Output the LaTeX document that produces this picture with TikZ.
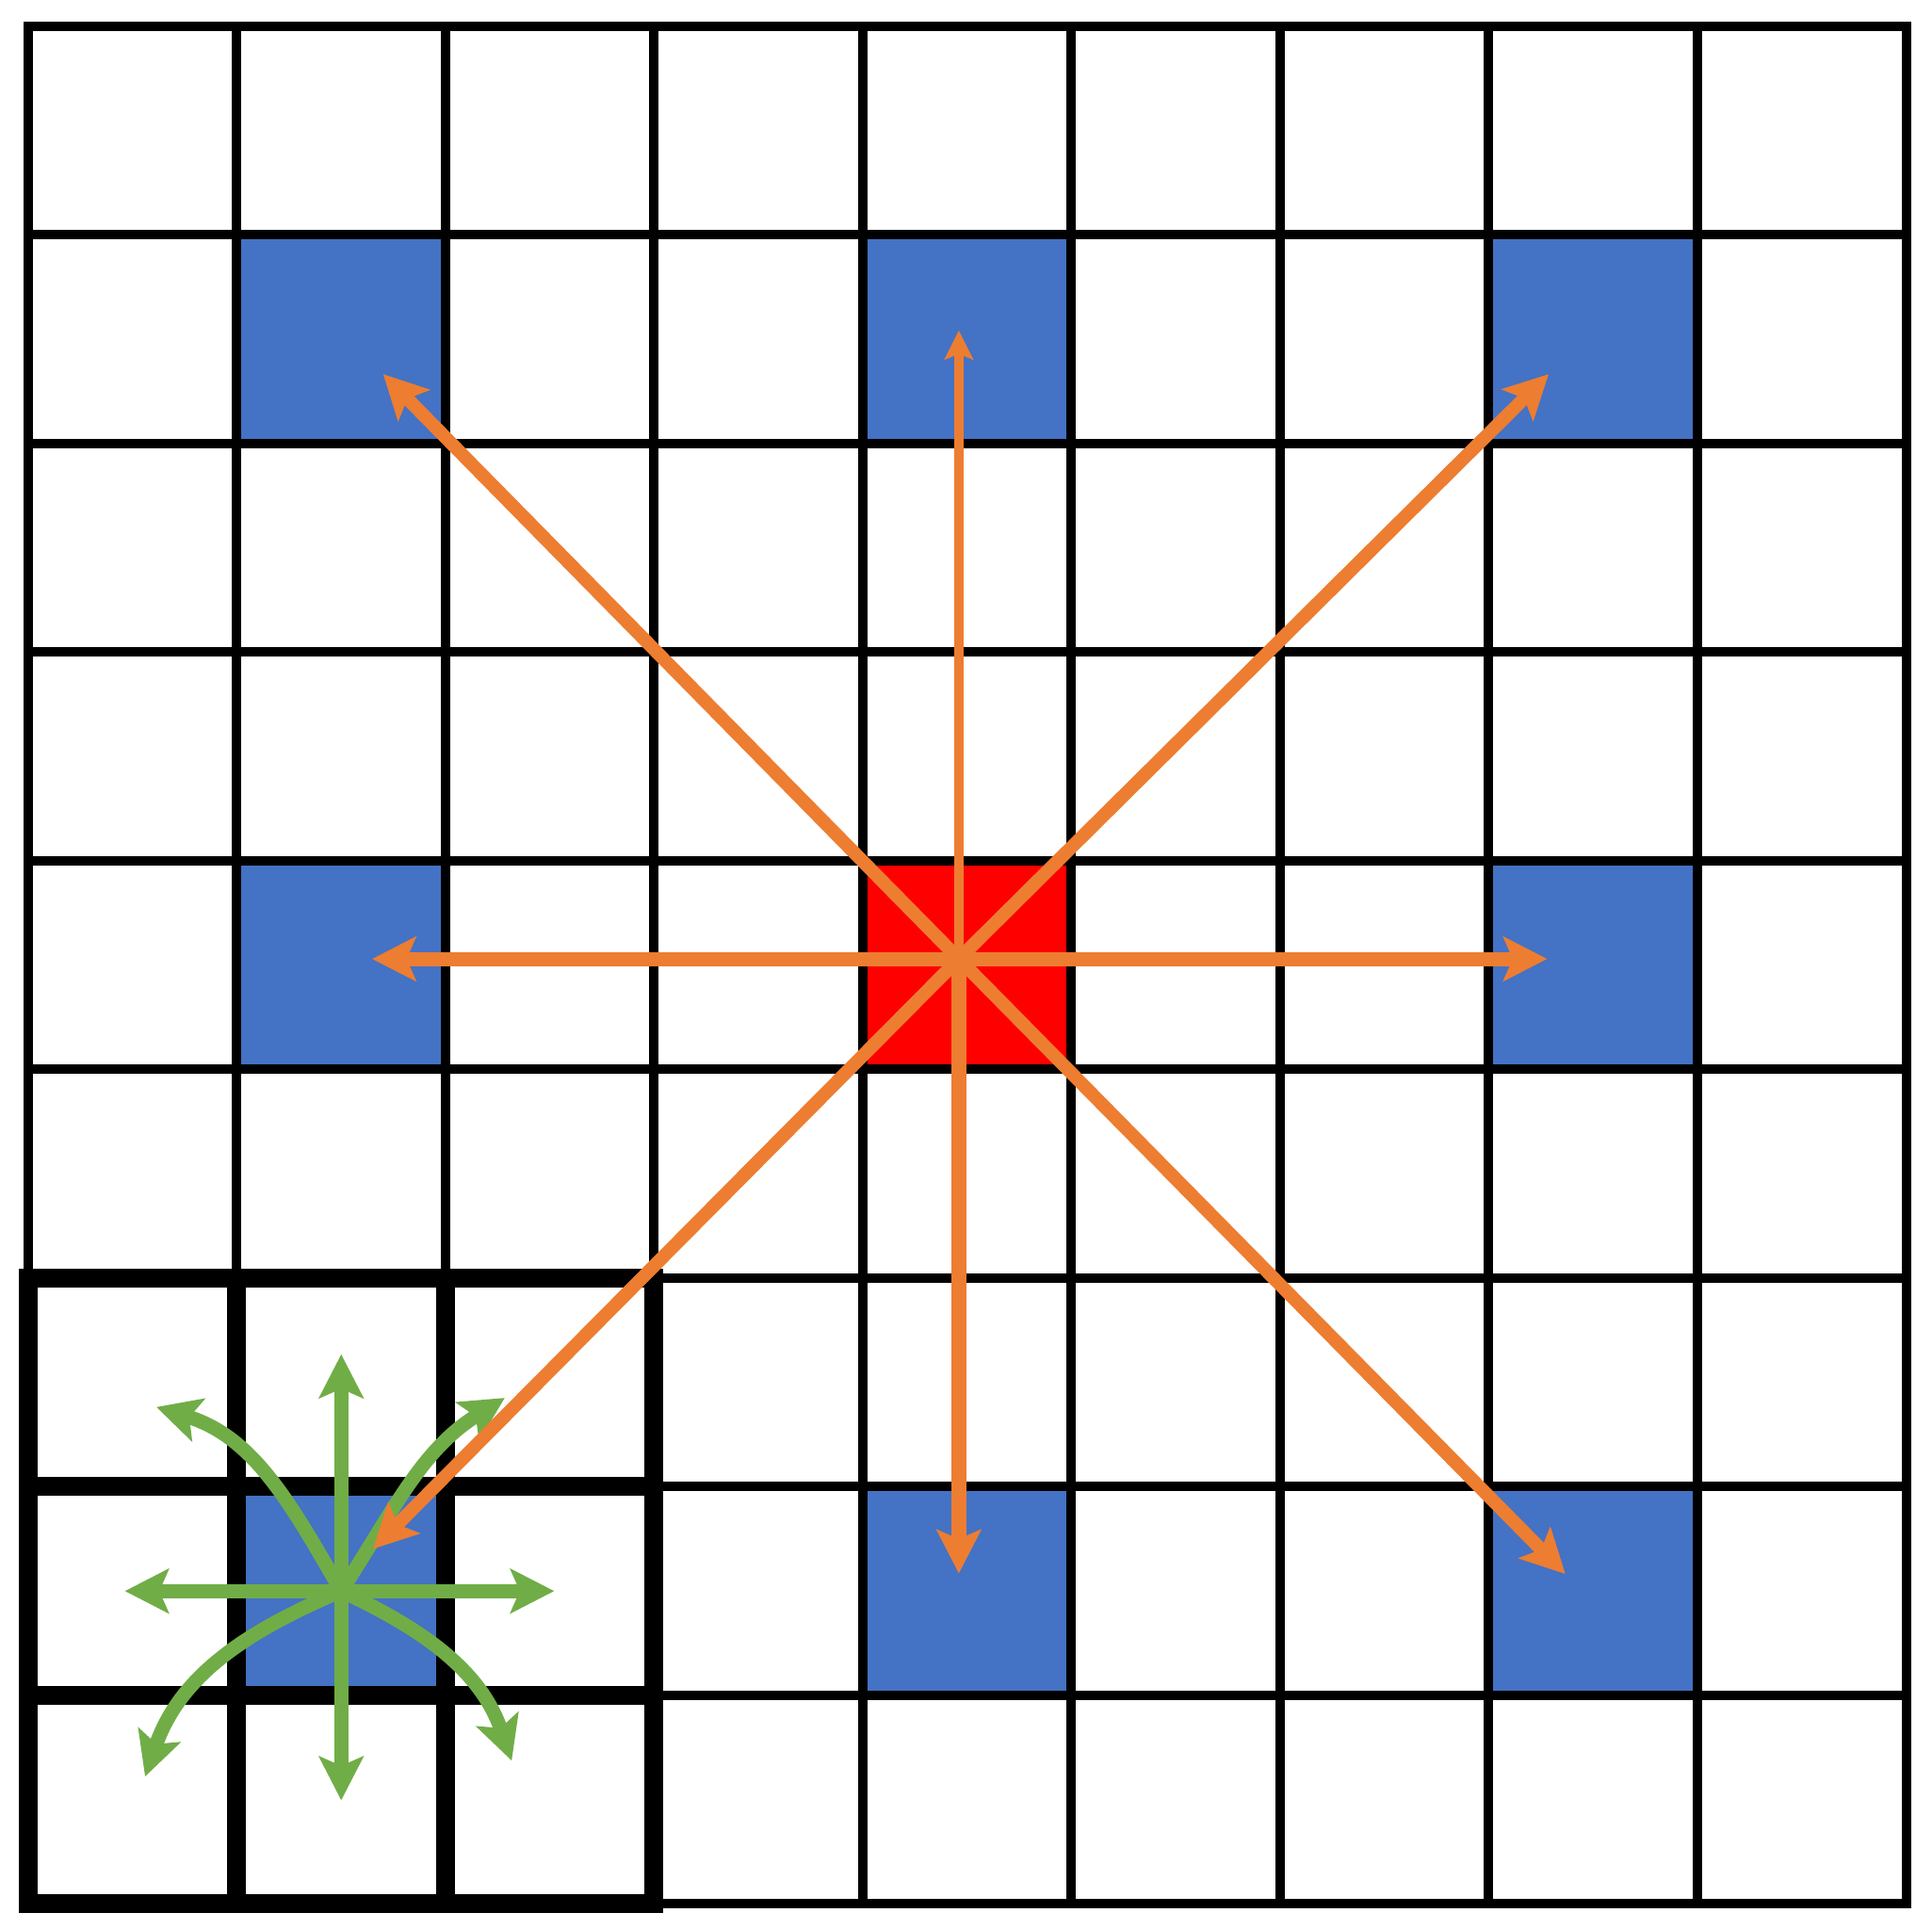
\documentclass[tikz,border=0pt]{standalone}
\usetikzlibrary{arrows.meta}
\definecolor{cblue}{HTML}{4472C4}
\definecolor{cred}{HTML}{FF0000}
\definecolor{corange}{HTML}{ED7D31}
\definecolor{cgreen}{HTML}{70AD47}
\begin{document}
\begin{tikzpicture}[x=2.215cm,y=2.215cm,
  gridline/.style={line width=2.845pt, black},
  thickline/.style={line width=5.69pt, black},
  bigtip/.style={-{Stealth[length=13.2pt,width=13.3pt,inset=2.8pt]}},
  smalltip/.style={-{Stealth[length=8.8pt,width=8.6pt,inset=1.7pt]}},
  greenarrow/.style={draw=cgreen, line width=4.27pt, bigtip},
  orangearrow/.style={draw=corange, line width=4pt, bigtip}
]
\useasboundingbox (-0.1354,-0.1196) rectangle (9.1242,9.1264);
% coloured cells
\foreach \c/\r in {1/1,4/1,7/1,1/4,7/4,1/7,4/7,7/7}
  \fill[cblue] (\c,8-\r) rectangle ++(1,1);
\fill[cred] (4,4) rectangle (5,5);
% grid
\foreach \i in {1,...,8} {
  \draw[gridline] (\i,0) -- (\i,9);
  \draw[gridline] (0,\i) -- (9,\i);
}
\draw[gridline] (0,0) rectangle (9,9);
% thick 3x3 window
\draw[thickline] (0,0) rectangle (3,3);
\draw[thickline] (1,0) -- (1,3) (2,0) -- (2,3) (0,1) -- (3,1) (0,2) -- (3,2);
% green arrows
\coordinate (gc) at (1.5,1.5);
\coordinate (gu) at (1.5,2.635);
\coordinate (gd) at (1.5,0.497);
\coordinate (gl) at (0.463,1.5);
\coordinate (gr) at (2.521,1.5);
\coordinate (gul) at (0.614,2.382);
\coordinate (gur) at (2.284,2.426);
\coordinate (gll) at (0.560,0.611);
\coordinate (glr) at (2.317,0.687);
\draw[greenarrow] (gc) -- (gu);
\draw[greenarrow] (gc) -- (gd);
\draw[greenarrow] (gc) -- (gl);
\draw[greenarrow] (gc) -- (gr);
\draw[greenarrow] (gc) to[out=120,in=-17] (gul);
\draw[greenarrow] (gc) to[out=57,in=212] (gur);
\draw[greenarrow] (gc) to[out=203,in=71] (gll);
\draw[greenarrow] (gc) to[out=335,in=109] (glr);
% orange arrows
\coordinate (oc) at (4.46,4.53);
\coordinate (ou) at (4.46,7.543);
\coordinate (od) at (4.46,1.584);
\coordinate (ol) at (1.648,4.53);
\coordinate (ort) at (7.28,4.53);
\coordinate (oul) at (1.701,7.333);
\coordinate (our) at (7.287,7.333);
\coordinate (odl) at (1.653,1.702);
\coordinate (odr) at (7.367,1.582);
\draw[orangearrow, line width=2.845pt, smalltip] (oc) -- (ou);
\draw[orangearrow, line width=4.55pt] (oc) -- (od);
\draw[orangearrow, line width=4.27pt] (oc) -- (ol);
\draw[orangearrow, line width=4.27pt] (oc) -- (ort);
\draw[orangearrow] (oc) -- (oul);
\draw[orangearrow] (oc) -- (our);
\draw[orangearrow] (oc) -- (odl);
\draw[orangearrow] (oc) -- (odr);
\end{tikzpicture}
\end{document}
